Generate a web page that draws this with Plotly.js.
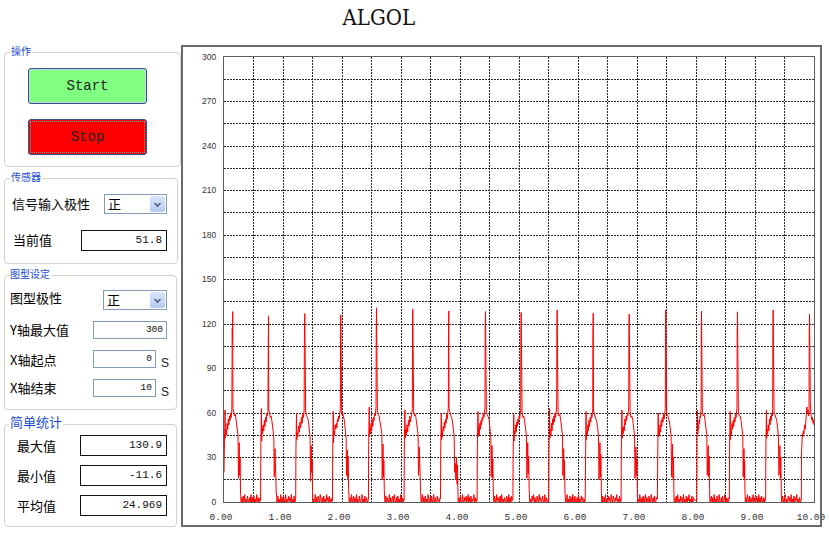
<!DOCTYPE html>
<html><head><meta charset="utf-8">
<script src="https://cdn.plot.ly/plotly-3.0.1.min.js"></script>
<style>
html,body{margin:0;padding:0;background:#fff;width:829px;height:537px;overflow:hidden;font-family:"Noto Sans CJK SC","Noto Sans",sans-serif;}
#chart{position:absolute;left:0;top:0;width:829px;height:537px;}
#frame{position:absolute;left:181px;top:45px;width:637px;height:478px;border:2px solid #6a6a6a;pointer-events:none;}
.grp{position:absolute;border:1px solid #d3d3c7;border-radius:4px;}
.gt{position:absolute;color:#1a4ad4;background:#fff;font-size:10px;line-height:12px;padding:0 1px;white-space:nowrap;}
.lbl{position:absolute;font-size:13px;line-height:16px;color:#000;white-space:nowrap;}
.box{position:absolute;background:#fff;border:1px solid #111;font-family:"Liberation Mono",monospace;font-size:11px;text-align:right;box-sizing:border-box;padding-right:4px;color:#111;}
.inp{border-color:#7f9db9;font-size:9.5px;padding-right:3px;}
.btn{position:absolute;box-sizing:border-box;font-family:"Liberation Mono",monospace;font-size:14px;text-align:center;color:#222;border:1px solid #2f5283;border-radius:3px;}
.dd{position:absolute;box-sizing:border-box;border:1px solid #7f9db9;background:#fff;font-size:13px;line-height:18px;padding-left:3px;}
.arr{position:absolute;right:1px;top:1px;width:15px;bottom:1px;background:linear-gradient(#dbe6fd,#b4c9f3);border-radius:2px;}
.s{position:absolute;font-family:"Liberation Sans",sans-serif;font-size:12px;line-height:14px;color:#222;}
</style></head>
<body>
<div id="chart"></div>
<div id="frame"></div>

<div class="grp" style="left:4px;top:52px;width:175px;height:113px;"></div>
<div class="gt" style="left:10px;top:45px;">操作</div>
<div class="btn" style="left:28px;top:68px;width:119px;height:36px;line-height:34px;background:#80ff80;box-shadow:inset 0 0 0 1px #c8d8f0;">Start</div>
<div class="btn" style="left:28px;top:119px;width:119px;height:36px;line-height:34px;background:#ff0000;"><div style="position:absolute;left:1px;top:1px;right:1px;bottom:1px;border:1px dotted #3fb0c0;"></div>Stop</div>

<div class="grp" style="left:4px;top:178px;width:172px;height:84px;"></div>
<div class="gt" style="left:10px;top:171px;">传感器</div>
<div class="lbl" style="left:12px;top:196px;">信号输入极性</div>
<div class="dd" style="left:104px;top:194px;width:63px;height:20px;">正<div class="arr"><svg width="15" height="16" style="position:absolute;left:0;top:1px"><polyline points="4.5,6 7.5,9 10.5,6" fill="none" stroke="#4d6185" stroke-width="1.6"/></svg></div></div>
<div class="lbl" style="left:13px;top:232px;">当前值</div>
<div class="box" style="left:81px;top:230px;width:86px;height:21px;line-height:19px;">51.8</div>

<div class="grp" style="left:4px;top:275px;width:171px;height:133px;"></div>
<div class="gt" style="left:9px;top:268px;">图型设定</div>
<div class="lbl" style="left:10px;top:290px;">图型极性</div>
<div class="dd" style="left:103px;top:290px;width:64px;height:20px;">正<div class="arr"><svg width="15" height="16" style="position:absolute;left:0;top:1px"><polyline points="4.5,6 7.5,9 10.5,6" fill="none" stroke="#4d6185" stroke-width="1.6"/></svg></div></div>
<div class="lbl" style="left:10px;top:322px;">Y轴最大值</div>
<div class="box inp" style="left:93px;top:321px;width:74px;height:18px;line-height:16px;">300</div>
<div class="lbl" style="left:10px;top:352px;">X轴起点</div>
<div class="box inp" style="left:93px;top:350px;width:63px;height:18px;line-height:16px;">0</div>
<div class="s" style="left:161px;top:356px;">S</div>
<div class="lbl" style="left:10px;top:380px;">X轴结束</div>
<div class="box inp" style="left:93px;top:379px;width:63px;height:18px;line-height:16px;">10</div>
<div class="s" style="left:161px;top:385px;">S</div>

<div class="grp" style="left:4px;top:424px;width:171px;height:101px;"></div>
<div class="gt" style="left:9px;top:414px;font-size:13px;line-height:16px;">简单统计</div>
<div class="lbl" style="left:17px;top:438px;">最大值</div>
<div class="box" style="left:80px;top:435px;width:87px;height:21px;line-height:19px;">130.9</div>
<div class="lbl" style="left:17px;top:468px;">最小值</div>
<div class="box" style="left:80px;top:465px;width:87px;height:21px;line-height:19px;">-11.6</div>
<div class="lbl" style="left:17px;top:498px;">平均值</div>
<div class="box" style="left:80px;top:495px;width:87px;height:21px;line-height:19px;">24.969</div>

<script>
// Axis ticks / grid
const xGrid = [0,0.5,1,1.5,2,2.5,3,3.5,4,4.5,5,5.5,6,6.5,7,7.5,8,8.5,9,9.5,10];
const xLabels = ['0.00','','1.00','','2.00','','3.00','','4.00','','5.00','','6.00','','7.00','','8.00','','9.00','','10.00'];
const yGrid = [0,15,30,45,60,75,90,105,120,135,150,165,180,195,210,225,240,255,270,285,300];
const yLabels = ['0','','30','','60','','90','','120','','150','','180','','210','','240','','270','','300'];

// Signal samples (time in s, value) read per cycle from the picture: pulse part then noisy baseline
const t01=[0.000,0.004,0.008,0.013,0.018,0.023,0.033,0.043,0.053,0.063,0.073,0.083,0.093,0.103,0.113,0.123,0.133,0.140,0.143,0.148,0.152,0.163,0.178,0.193,0.208,0.223,0.238,0.245,0.252,0.258,0.265,0.272,0.280,0.288,0.294,
 0.302,0.314,0.326,0.338,0.350,0.362,0.374,0.386,0.398,0.410,0.422,0.434,0.446,0.458,0.470,0.482,0.494,0.506,0.518,0.530,0.542,0.554,0.566,0.578,0.590,0.602,0.614];
const v01=[20,24,40,50,62,43,49,45,53,49,56,52,58,55,60,57,62,117,108,128.4,63,60,58,59,55,51,45,16,25,40,18,30,8,2,-6,
 3,-2,4,0,5,-1,2,-3,4,1,-2,3,0,5,-1,3,-2,4,0,2,-3,5,1,-1,3,0,2];
const t02=[0.620,0.624,0.629,0.634,0.639,0.644,0.654,0.664,0.674,0.684,0.694,0.704,0.714,0.724,0.734,0.744,0.749,0.751,0.754,0.758,0.769,0.784,0.799,0.814,0.829,0.844,0.851,0.858,0.864,0.871,0.878,0.886,0.894,0.900,0.905,
 0.913,0.925,0.937,0.949,0.961,0.973,0.985,0.997,1.009,1.021,1.033,1.045,1.057,1.069,1.081,1.093,1.105,1.117,1.129,1.141,1.153,1.165,1.177,1.189,1.201,1.209];
const v02=[1,36,47,63,41,50,46,52,48,55,51,57,54,59,58,61,114,100,125.5,62,61,57,58,54,50,44,17,22,36,14,27,6,3,-11.6,-2,
 4,-1,2,-3,5,0,3,-2,4,1,-1,5,0,2,-3,4,1,3,-2,5,-1,2,0,4,-2,1];
const t03=[1.215,1.219,1.224,1.229,1.234,1.240,1.252,1.264,1.276,1.288,1.300,1.312,1.324,1.336,1.348,1.358,1.363,1.366,1.369,1.373,1.384,1.399,1.414,1.429,1.444,1.459,1.466,1.473,1.479,1.486,1.493,1.501,1.509,1.515,
 1.523,1.535,1.547,1.559,1.571,1.583,1.595,1.607,1.619,1.631,1.643,1.655,1.667,1.679,1.691,1.703,1.715,1.727,1.739,1.751,1.763,1.775,1.787,1.799,1.811,1.823,1.832];
const v03=[2,34,45,60,42,47,44,51,47,54,50,57,53,60,57,62,112,98,127,61,60,58,57,55,50,44,14,24,38,20,29,7,1,-5,
 2,-2,5,0,3,-3,4,1,-1,5,2,-2,3,0,4,-1,2,-3,5,1,3,-2,4,0,2,-1,3];
const t04=[1.838,1.842,1.847,1.852,1.857,1.863,1.873,1.883,1.893,1.903,1.913,1.923,1.933,1.943,1.953,1.963,1.972,1.975,1.977,1.980,1.984,1.995,2.010,2.025,2.040,2.055,2.070,2.077,2.084,2.090,2.097,2.104,2.112,2.120,2.128,
 2.136,2.148,2.160,2.172,2.184,2.196,2.208,2.220,2.232,2.244,2.256,2.268,2.280,2.292,2.304,2.316,2.328,2.340,2.352,2.364,2.376,2.388,2.400,2.412,2.424,2.436,2.443];
const v04=[1,30,44,61,40,48,45,52,49,53,50,56,54,58,56,60,63,110,97,126.2,62,59,60,57,55,49,43,18,26,35,16,31,9,3,-7,
 3,0,5,-2,2,4,-1,3,-3,5,0,2,-2,4,1,-1,3,5,-2,2,0,4,-3,3,1,-1,2];
const t05=[2.448,2.452,2.457,2.462,2.467,2.473,2.483,2.493,2.503,2.513,2.523,2.533,2.543,2.553,2.563,2.572,2.577,2.580,2.582,2.585,2.589,2.600,2.615,2.630,2.645,2.660,2.675,2.682,2.689,2.695,2.702,2.709,2.717,2.725,2.735,
 2.743,2.755,2.767,2.779,2.791,2.803,2.815,2.827,2.839,2.851,2.863,2.875,2.887,2.899,2.911,2.923,2.935,2.947,2.959,2.971,2.983,2.995,3.007,3.019,3.031,3.043];
const v05=[2,38,48,64,44,50,46,53,48,56,51,57,55,60,58,62,64,115,104,130.9,63,60,59,58,54,50,46,15,23,39,17,28,8,2,-8,
 4,-2,3,1,-1,5,0,3,-3,2,4,-1,5,1,-2,3,0,4,-1,2,-3,5,1,3,-2,2];
const t06=[3.052,3.056,3.061,3.066,3.071,3.077,3.089,3.101,3.113,3.125,3.137,3.149,3.161,3.173,3.185,3.192,3.195,3.198,3.200,3.204,3.215,3.230,3.245,3.260,3.275,3.290,3.297,3.304,3.310,3.317,3.324,3.332,3.338,3.342,
 3.350,3.362,3.374,3.386,3.398,3.410,3.422,3.434,3.446,3.458,3.470,3.482,3.494,3.506,3.518,3.530,3.542,3.554,3.566,3.578,3.590,3.602,3.614,3.626,3.638,3.650,3.662];
const v06=[1,35,47,62,43,49,45,52,47,55,51,58,54,59,61,63,116,100,130,62,60,58,59,55,51,45,18,23,37,15,30,7,2,-4,
 2,5,-1,3,-2,4,0,2,-3,5,1,-1,3,0,4,-2,2,5,-1,3,0,-3,4,1,2,-1,3];
const t07=[3.669,3.673,3.678,3.683,3.688,3.694,3.704,3.714,3.724,3.734,3.744,3.754,3.764,3.774,3.784,3.794,3.802,3.805,3.807,3.810,3.814,3.825,3.840,3.855,3.870,3.885,3.900,3.910,3.920,3.930,3.940,3.950,3.958,3.966,3.975,
 3.983,3.995,4.007,4.019,4.031,4.043,4.055,4.067,4.079,4.091,4.103,4.115,4.127,4.139,4.151,4.163,4.175,4.187,4.199,4.211,4.223,4.235,4.247,4.259,4.271,4.283];
const v07=[2,33,46,60,42,48,44,51,48,54,50,56,53,59,56,61,63,113,99,128.8,63,61,58,57,55,51,45,20,26,15,30,12,25,4,-6,
 3,-1,4,0,-3,5,2,-2,3,1,4,-1,2,5,-2,3,0,4,-3,2,1,5,-1,3,0,2];
const t08=[4.290,4.294,4.299,4.304,4.309,4.315,4.325,4.335,4.345,4.355,4.365,4.375,4.385,4.395,4.405,4.415,4.424,4.427,4.429,4.432,4.436,4.447,4.462,4.477,4.492,4.507,4.522,4.529,4.536,4.542,4.549,4.556,4.564,4.572,4.578,
 4.586,4.598,4.610,4.622,4.634,4.646,4.658,4.670,4.682,4.694,4.706,4.718,4.730,4.742,4.754,4.766,4.778,4.790,4.802,4.814,4.826,4.838,4.850,4.862,4.874,4.886,4.893];
const v08=[1,37,46,61,44,50,45,53,49,55,52,57,55,60,57,62,64,116,102,128.4,62,60,59,57,56,50,44,17,24,38,16,29,8,3,-5,
 4,0,-2,5,1,3,-3,2,4,-1,5,0,2,-2,3,1,-1,4,2,-3,5,0,3,-2,4,1,2];
const t09=[4.897,4.901,4.906,4.911,4.916,4.922,4.932,4.942,4.952,4.962,4.972,4.982,4.992,5.002,5.012,5.022,5.029,5.032,5.034,5.037,5.041,5.052,5.067,5.082,5.097,5.112,5.127,5.134,5.141,5.148,5.156,5.164,5.172,5.181,5.190,
 5.198,5.210,5.222,5.234,5.246,5.258,5.270,5.282,5.294,5.306,5.318,5.330,5.342,5.354,5.366,5.378,5.390,5.402,5.414,5.426,5.438,5.450,5.462,5.474,5.486,5.498];
const v09=[2,32,45,59,41,48,46,52,47,54,51,56,53,58,56,60,63,112,100,127.8,61,60,57,58,54,49,44,16,27,40,19,31,9,2,-7,
 2,-2,4,1,5,-1,3,0,-3,4,2,-1,5,1,3,-2,2,4,-1,0,5,-3,3,1,-1,2];
const t10=[5.505,5.509,5.514,5.519,5.524,5.530,5.540,5.550,5.560,5.570,5.580,5.590,5.600,5.610,5.620,5.630,5.639,5.642,5.644,5.647,5.651,5.662,5.677,5.692,5.707,5.722,5.737,5.744,5.751,5.757,5.764,5.771,5.779,5.787,5.795,
 5.803,5.815,5.827,5.839,5.851,5.863,5.875,5.887,5.899,5.911,5.923,5.935,5.947,5.959,5.971,5.983,5.995,6.007,6.019,6.031,6.043,6.055,6.067,6.079,6.091,6.103,6.115];
const v10=[1,36,48,63,43,49,45,53,48,56,52,58,54,60,57,62,64,117,104,129.4,62,61,58,59,55,50,45,18,25,36,15,28,7,2,-6,
 3,5,-1,2,-3,4,0,3,-2,5,1,-1,4,2,-2,3,0,5,-1,2,-3,4,1,3,-2,2,0];
const t11=[6.122,6.126,6.131,6.136,6.141,6.147,6.157,6.167,6.177,6.187,6.197,6.207,6.217,6.227,6.237,6.245,6.250,6.253,6.255,6.258,6.262,6.273,6.288,6.303,6.318,6.333,6.348,6.356,6.364,6.372,6.380,6.388,6.396,6.404,6.410,
 6.418,6.430,6.442,6.454,6.466,6.478,6.490,6.502,6.514,6.526,6.538,6.550,6.562,6.574,6.586,6.598,6.610,6.622,6.634,6.646,6.658,6.670,6.682,6.694,6.706,6.718,6.725];
const v11=[2,35,46,61,42,48,45,52,48,55,51,57,54,59,57,61,63,113,98,127.3,62,60,58,57,54,50,44,15,24,40,17,32,8,2,-9,
 4,-2,3,0,5,-1,2,-3,4,1,3,-2,5,0,-1,4,2,-3,3,1,5,-1,2,0,4,-2,2];
const t12=[6.730,6.734,6.739,6.744,6.749,6.755,6.765,6.775,6.785,6.795,6.805,6.815,6.825,6.835,6.845,6.855,6.860,6.863,6.865,6.868,6.872,6.883,6.898,6.913,6.928,6.943,6.958,6.966,6.974,6.982,6.990,6.998,7.005,7.010,7.015,
 7.023,7.035,7.047,7.059,7.071,7.083,7.095,7.107,7.119,7.131,7.143,7.155,7.167,7.179,7.191,7.203,7.215,7.227,7.239,7.251,7.263,7.275,7.287,7.299,7.311,7.323,7.335];
const v12=[1,34,47,62,43,50,46,51,48,56,52,58,55,59,58,62,64,114,101,126.6,63,61,57,58,55,51,45,16,26,37,18,29,9,3,-6,
 2,-1,5,1,-3,3,0,4,-2,2,5,-1,3,1,-2,4,0,-3,5,2,-1,3,0,4,-2,1,3];
const t13=[7.345,7.349,7.354,7.359,7.364,7.370,7.380,7.390,7.400,7.410,7.420,7.430,7.440,7.450,7.460,7.470,7.480,7.483,7.485,7.488,7.492,7.503,7.518,7.533,7.548,7.563,7.578,7.586,7.594,7.602,7.610,7.618,7.625,7.630,7.635,
 7.643,7.655,7.667,7.679,7.691,7.703,7.715,7.727,7.739,7.751,7.763,7.775,7.787,7.799,7.811,7.823,7.835,7.847,7.859,7.871,7.883,7.895,7.907,7.919,7.931,7.943,7.955,7.967,7.979,7.991,8.003,8.010];
const v13=[2,36,46,60,44,49,45,52,47,55,51,57,54,60,56,61,63,115,103,129.4,62,60,59,57,54,50,44,17,25,39,16,30,8,2,-8,
 3,-2,4,0,5,-1,2,-3,4,1,3,-2,5,0,2,-1,4,-3,3,1,5,-2,2,0,4,-1,3,1,1,1,1,1];
const t14=[8.015,8.018,8.022,8.026,8.030,8.036,8.044,8.052,8.060,8.068,8.076,8.082,8.087,8.089,8.091,8.093,8.097,8.108,8.123,8.138,8.153,8.168,8.183,8.191,8.199,8.207,8.215,8.223,8.230,8.235,8.240,
 8.248,8.260,8.272,8.284,8.296,8.308,8.320,8.332,8.344,8.356,8.368,8.380,8.392,8.404,8.416,8.428,8.440,8.452,8.464,8.476,8.488,8.500,8.512,8.524,8.536,8.548,8.559];
const v14=[1,40,52,62,46,52,49,55,53,58,57,61,63,116,102,128.8,62,60,58,59,55,50,45,18,24,38,17,31,9,3,-7,
 2,4,-1,3,-3,5,0,2,-2,4,1,-1,5,2,-3,3,0,4,-2,1,5,-1,3,0,2,-2,3];
const t15=[8.565,8.569,8.574,8.579,8.584,8.590,8.600,8.610,8.620,8.630,8.640,8.650,8.660,8.670,8.680,8.690,8.695,8.698,8.700,8.703,8.707,8.718,8.733,8.748,8.763,8.778,8.793,8.800,8.807,8.813,8.819,8.825,8.830,8.835,8.840,
 8.848,8.860,8.872,8.884,8.896,8.908,8.920,8.932,8.944,8.956,8.968,8.980,8.992,9.004,9.016,9.028,9.040,9.052,9.064,9.076,9.088,9.100,9.112,9.124,9.136,9.148,9.160,9.172];
const v15=[2,35,47,61,42,48,45,53,49,55,51,57,54,59,57,62,64,114,100,128.2,63,61,58,58,55,50,45,17,26,36,15,28,8,2,-6,
 3,-2,5,1,-1,4,0,3,-3,2,5,-1,3,1,-2,4,2,-3,5,0,3,-1,4,1,-2,3,0,2];
const t16=[9.180,9.184,9.189,9.194,9.199,9.205,9.215,9.225,9.235,9.245,9.255,9.265,9.275,9.285,9.295,9.300,9.303,9.305,9.308,9.312,9.323,9.338,9.353,9.368,9.383,9.398,9.406,9.414,9.422,9.430,9.438,9.446,9.453,9.460,
 9.468,9.480,9.492,9.504,9.516,9.528,9.540,9.552,9.564,9.576,9.588,9.600,9.612,9.624,9.636,9.648,9.660,9.672,9.684,9.696,9.708,9.720,9.732,9.744,9.756,9.768,9.779];
const v16=[1,37,48,62,43,49,46,52,48,56,52,58,55,60,58,63,115,101,129.4,62,60,59,57,55,50,44,18,25,38,16,30,8,-10,1,
 4,0,-2,3,5,-1,2,-3,4,1,3,-2,5,0,2,-1,4,-3,3,1,5,-2,2,0,3,-1,2];
const t17=[9.785,9.789,9.794,9.799,9.804,9.810,9.820,9.830,9.840,9.850,9.860,9.870,9.880,9.890,9.900,9.910,9.916,9.919,9.921,9.924,9.928,9.932,9.938,9.946,9.955,9.965,9.975,9.985,9.993,10.000];
const v17=[2,34,42,38,46,44,48,46,52,49,56,58,64,60,62,58,63,114,102,126.6,82,70,67,60,58,55,57,53,55,51.8];

const timeS = [].concat(t01,t02,t03,t04,t05,t06,t07,t08,t09,t10,t11,t12,t13,t14,t15,t16,t17);
const signal = [].concat(v01,v02,v03,v04,v05,v06,v07,v08,v09,v10,v11,v12,v13,v14,v15,v16,v17);

const trace = {
  x: timeS, y: signal, type: 'scatter', mode: 'lines',
  line: {color: '#ff0000', width: 1}, hoverinfo: 'skip'
};

const axisCommon = {
  tickmode: 'array', showgrid: true, gridcolor: '#2a2a2a', gridwidth: 1, griddash: '2px,1px',
  zeroline: false, showline: true, mirror: true, linecolor: '#5e5e5e', linewidth: 1,
  ticks: '', fixedrange: true
};

const layout = {
  width: 829, height: 537,
  margin: {l: 224, r: 15, t: 57, b: 35, pad: 0},
  paper_bgcolor: '#ffffff', plot_bgcolor: '#ffffff',
  showlegend: false,
  title: {
    text: 'ALGOL', xref: 'container', yref: 'container', x: 0.457, y: 0.968,
    xanchor: 'center', yanchor: 'middle',
    font: {family: '"DejaVu Serif Condensed", "Liberation Serif", serif', size: 22, color: '#111'}
  },
  xaxis: Object.assign({}, axisCommon, {
    range: [0, 10], tickvals: xGrid, ticktext: xLabels,
    tickfont: {family: '"Liberation Mono", monospace', size: 9.5, color: '#333'},
    ticklabelstandoff: 6, ticklabelshift: -3
  }),
  yaxis: Object.assign({}, axisCommon, {
    range: [0, 300], tickvals: yGrid, ticktext: yLabels,
    tickfont: {family: '"Liberation Sans", sans-serif', size: 8.5, color: '#333'},
    ticklabelstandoff: 5
  })
};

Plotly.newPlot('chart', [trace], layout, {displayModeBar: false, staticPlot: true});
</script>
</body></html>
